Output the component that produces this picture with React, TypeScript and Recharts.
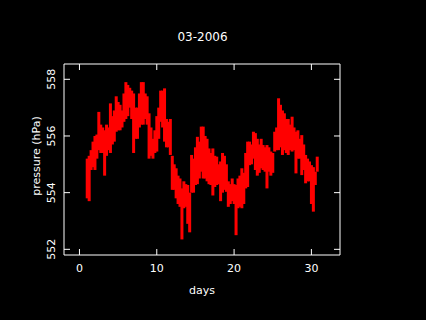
import React from 'react';
import { ComposedChart, Bar, XAxis, YAxis } from 'recharts';

const title = '03-2006';
const xLabel = 'days';
const yLabel = 'pressure (hPa)';
const xTicks = [0, 10, 20, 30];
const yTicks = [552, 554, 556, 558];

const days = [
  1.0, 1.25, 1.5, 1.75, 2.0, 2.25, 2.5, 2.75, 3.0, 3.25, 3.5, 3.75,
  4.0, 4.25, 4.5, 4.75, 5.0, 5.25, 5.5, 5.75, 6.0, 6.25, 6.5, 6.75,
  7.0, 7.25, 7.5, 7.75, 8.0, 8.25, 8.5, 8.75, 9.0, 9.25, 9.5, 9.75,
  10.0, 10.25, 10.5, 10.75, 11.0, 11.25, 11.5, 11.75, 12.0, 12.25, 12.5, 12.75,
  13.0, 13.25, 13.5, 13.75, 14.0, 14.25, 14.5, 14.75, 15.0, 15.25, 15.5, 15.75,
  16.0, 16.25, 16.5, 16.75, 17.0, 17.25, 17.5, 17.75, 18.0, 18.25, 18.5, 18.75,
  19.0, 19.25, 19.5, 19.75, 20.0, 20.25, 20.5, 20.75, 21.0, 21.25, 21.5, 21.75,
  22.0, 22.25, 22.5, 22.75, 23.0, 23.25, 23.5, 23.75, 24.0, 24.25, 24.5, 24.75,
  25.0, 25.25, 25.5, 25.75, 26.0, 26.25, 26.5, 26.75, 27.0, 27.25, 27.5, 27.75,
  28.0, 28.25, 28.5, 28.75, 29.0, 29.25, 29.5, 29.75, 30.0, 30.25, 30.5, 30.75,
];

const lows = [
  553.8, 553.7, 554.8, 554.9, 554.8, 555.2, 555.5, 555.4, 555.4, 554.6, 555.3, 555.5,
  555.4, 555.7, 555.8, 556.15, 556.2, 556.2, 556.3, 556.5, 556.6, 556.7, 557.0, 556.6,
  555.4, 555.9, 555.9, 556.3, 556.4, 556.4, 556.6, 556.4, 555.2, 555.3, 555.2, 555.4,
  555.45, 555.9, 556.5, 556.3, 555.8, 555.6, 555.6, 555.33, 554.1, 554.1, 553.8, 553.6,
  553.5, 552.35, 553.45, 553.5, 552.9, 552.6, 554.0, 554.0, 554.27, 554.3, 554.5, 554.74,
  554.5, 554.5, 554.4, 554.3, 554.27, 553.9, 554.2, 554.27, 554.3, 553.7, 554.0, 554.1,
  554.03, 553.5, 553.6, 553.7, 553.6, 552.5, 553.45, 553.5, 553.45, 553.6, 554.15, 554.2,
  554.97, 555.0, 555.2, 554.8, 554.6, 554.7, 554.86, 554.8, 554.74, 554.15, 554.74, 554.6,
  554.7, 555.45, 555.5, 555.5, 555.6, 555.33, 555.5, 555.4, 555.33, 555.5, 555.45, 555.5,
  554.68, 555.2, 555.2, 554.62, 554.8, 554.33, 554.4, 554.4, 553.6, 553.33, 554.27, 554.74,
];

const highs = [
  555.2, 555.3, 555.5, 555.8, 556.0, 556.05, 556.85, 556.4, 556.3, 556.2, 556.4, 556.3,
  557.15, 556.7, 556.9, 557.4, 557.2, 557.1, 556.9, 557.5, 557.9, 557.8, 557.7, 557.6,
  557.5, 557.0, 557.0, 557.5, 557.9, 557.9, 557.5, 557.4, 556.8, 556.3, 555.9, 556.2,
  556.7, 557.0, 557.6, 557.6, 557.68, 556.6, 556.5, 556.6, 555.3, 555.0, 554.86, 554.6,
  554.5, 554.15, 554.4, 554.3, 554.27, 554.0, 555.33, 555.2, 555.6, 555.97, 555.8, 556.33,
  556.33, 556.0, 555.9, 555.56, 555.4, 555.56, 555.3, 555.27, 555.0, 555.1, 555.4, 555.3,
  555.0, 554.4, 554.3, 554.5, 554.3, 554.27, 554.5, 554.6, 554.86, 554.7, 555.4, 555.8,
  555.8, 555.7, 556.15, 556.1, 555.9, 555.7, 555.9, 555.68, 555.6, 555.68, 555.6, 555.45,
  555.4, 556.15, 556.3, 557.33, 557.1, 556.9, 556.8, 556.6, 556.6, 556.4, 556.68, 556.3,
  556.15, 556.2, 555.9, 556.03, 555.7, 555.33, 555.2, 555.1, 554.97, 554.9, 554.74, 555.27,
];

const data = days.map((d, i) => ({ day: d, range: [lows[i], highs[i]] }));

const FONT = 'DejaVu Sans';
const WHITE = '#ffffff';
const RED = '#ff0000';

const XBottomTick = (props: any) => {
  const { x, y, payload } = props;
  return (
    <g>
      <line x1={x} x2={x} y1={y} y2={y - 6} stroke={WHITE} strokeWidth={1} />
      <text x={x} y={y + 16.5} textAnchor="middle" fill={WHITE} fontSize={11} fontFamily={FONT}>
        {payload.value}
      </text>
    </g>
  );
};

const XTopTick = (props: any) => {
  const { x, y } = props;
  return <line x1={x} x2={x} y1={y} y2={y + 6} stroke={WHITE} strokeWidth={1} />;
};

const YLeftTick = (props: any) => {
  const { x, y, payload } = props;
  const tx = x - 12;
  return (
    <g>
      <line x1={x} x2={x + 6} y1={y} y2={y} stroke={WHITE} strokeWidth={1} />
      <text
        x={tx}
        y={y}
        transform={`rotate(-90 ${tx} ${y})`}
        textAnchor="middle"
        dominantBaseline="central"
        fill={WHITE}
        fontSize={11}
        fontFamily={FONT}
      >
        {payload.value}
      </text>
    </g>
  );
};

const YRightTick = (props: any) => {
  const { x, y } = props;
  return <line x1={x} x2={x - 6} y1={y} y2={y} stroke={WHITE} strokeWidth={1} />;
};

// Draws each range bar as a fixed 3px-wide vertical strip centred on its x value.
const StripShape = (props: any) => {
  const { x, y, width, height } = props;
  if (x == null || y == null) return null;
  const cx = x + width / 2;
  const top = Math.min(y, y + height);
  const h = Math.max(Math.abs(height), 2);
  return <rect x={cx - 1.5} y={top} width={3} height={h} fill={RED} />;
};

const X_DOMAIN: [number, number] = [-2, 33.7];
const Y_DOMAIN: [number, number] = [551.8, 558.54];

export default function App() {
  return (
    <div style={{ position: 'absolute', left: 0, top: 0, width: 426, height: 320, background: '#000' }}>
      <ComposedChart
        width={426}
        height={320}
        data={data}
        margin={{ top: 63, right: 85, bottom: 0, left: 0 }}
        barCategoryGap={0}
        barGap={0}
        style={{ background: '#000' }}
      >
        <XAxis
          xAxisId="b"
          type="number"
          dataKey="day"
          orientation="bottom"
          domain={X_DOMAIN}
          ticks={xTicks}
          interval={0}
          allowDataOverflow
          height={65}
          tickSize={0}
          tickMargin={0}
          tickLine={false}
          axisLine={{ stroke: WHITE, strokeWidth: 1 }}
          tick={<XBottomTick />}
        />
        <XAxis
          xAxisId="t"
          type="number"
          dataKey="day"
          orientation="top"
          domain={X_DOMAIN}
          ticks={xTicks}
          interval={0}
          allowDataOverflow
          height={1}
          tickSize={0}
          tickMargin={0}
          tickLine={false}
          axisLine={{ stroke: WHITE, strokeWidth: 1 }}
          tick={<XTopTick />}
        />
        <YAxis
          yAxisId="l"
          type="number"
          orientation="left"
          domain={Y_DOMAIN}
          ticks={yTicks}
          interval={0}
          allowDataOverflow
          width={64}
          tickSize={0}
          tickMargin={0}
          tickLine={false}
          axisLine={{ stroke: WHITE, strokeWidth: 1 }}
          tick={<YLeftTick />}
        />
        <YAxis
          yAxisId="r"
          type="number"
          orientation="right"
          domain={Y_DOMAIN}
          ticks={yTicks}
          interval={0}
          allowDataOverflow
          width={1}
          tickSize={0}
          tickMargin={0}
          tickLine={false}
          axisLine={{ stroke: WHITE, strokeWidth: 1 }}
          tick={<YRightTick />}
        />
        <Bar
          xAxisId="b"
          yAxisId="l"
          dataKey="range"
          fill={RED}
          shape={<StripShape />}
          isAnimationActive={false}
        />
      </ComposedChart>
      <svg
        width={426}
        height={320}
        style={{ position: 'absolute', left: 0, top: 0, pointerEvents: 'none' }}
      >
        <text x={202.5} y={41} textAnchor="middle" fill={WHITE} fontSize={12} fontFamily={FONT}>
          {title}
        </text>
        <text x={202} y={294} textAnchor="middle" fill={WHITE} fontSize={11} fontFamily={FONT}>
          {xLabel}
        </text>
        <text
          x={36.5}
          y={156}
          transform="rotate(-90 36.5 156)"
          textAnchor="middle"
          dominantBaseline="central"
          fill={WHITE}
          fontSize={11}
          fontFamily={FONT}
        >
          {yLabel}
        </text>
      </svg>
    </div>
  );
}
